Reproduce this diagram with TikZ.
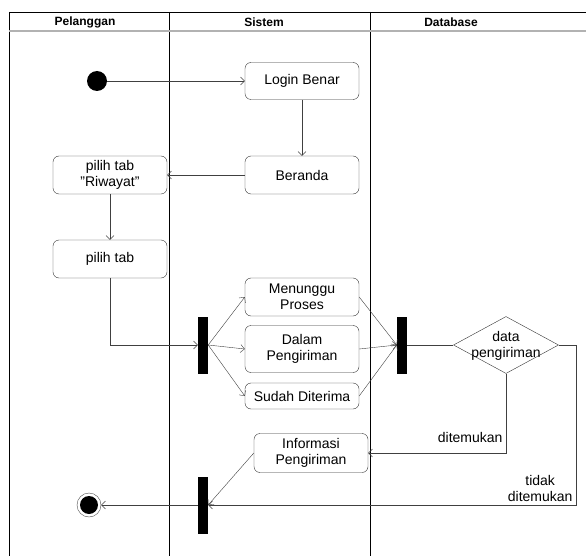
\documentclass[tikz,border=0pt]{standalone}
\usepackage{fontspec}
\setmainfont{Liberation Sans}
\usetikzlibrary{shapes.geometric,arrows.meta,positioning}

\begin{document}
\begin{tikzpicture}[x=1pt,y=-1pt,
  act/.style={draw=black!80,rounded corners=6pt,minimum width=114pt,align=center,inner sep=2pt,font=\fontsize{14}{16}\selectfont},
  bar/.style={fill=black,inner sep=0pt,minimum width=10pt,minimum height=57pt},
  flow/.style={draw=black!75,-{Straight Barb[length=4pt,width=8pt]}},
  lbl/.style={align=center,font=\fontsize{14}{16}\selectfont},
  lane/.style={font=\bfseries\fontsize{12}{14}\selectfont}]
\useasboundingbox (0,0) rectangle (586,556);

% lanes
\draw (9,12) -- (586,12);
\draw (9,12) -- (9,556);
\foreach \x in {169,370} {
\draw (\x,12) -- (\x,556);
}
\draw[gray!60,line width=1.5pt] (9,31) -- (586,31);
\node[lane] (h1) at (85,22) {Pelanggan};
\node[lane] (h2) at (264,22) {Sistem};
\node[lane] (h3) at (451,22) {Database};

% nodes
\node[circle,fill=black,inner sep=0pt,minimum size=20pt] (start) at (97,81) {};
\node[act,minimum height=37pt] (login) at (302,81) {Login Benar};
\node[act,minimum height=38pt] (beranda) at (302,175) {Beranda};
\node[act,minimum height=38pt] (riwayat) at (110,175) {pilih tab\\"Riwayat"};
\node[act,minimum height=38pt] (piliht) at (110,259) {pilih tab};

\node[bar] (fork1) at (203,345) {};
\node[act,minimum height=38pt] (menunggu) at (302,297) {Menunggu\\Proses};
\node[act,minimum height=47pt] (dalam) at (302,349) {Dalam\\Pengiriman};
\node[act,minimum height=26pt] (sudah) at (302,396) {Sudah Diterima};
\node[bar] (join) at (402,345) {};

\node[diamond,draw=black!80,inner sep=0pt,minimum width=105pt,minimum height=57pt] (data) at (506,345) {};
\node[lbl] (dtext) at (506,346) {data\\pengiriman};

\node[act,minimum height=39pt] (info) at (311,453) {Informasi\\Pengiriman};
\node[bar] (fork2) at (203,505) {};
\node[circle,draw=black!70,inner sep=0pt,minimum size=24pt] (final) at (89,505) {};
\node[circle,fill=black,inner sep=0pt,minimum size=18pt] (finalin) at (final) {};

\coordinate (ret) at (576,505);

% flows
\draw[flow] (start) -- (login);
\draw[flow] (login) -- (beranda);
\draw[flow] (beranda) -- (riwayat);
\draw[flow] (riwayat) -- (piliht);
\draw[flow] (piliht.south) |- (fork1.west);
\foreach \n in {menunggu,dalam,sudah} {
\draw[flow] (fork1.east) -- (\n.west);
\draw[flow] (\n.east) -- (join.west);
}
\draw[draw=black!75] (join.east) -- (data.west);
\draw[flow] (data.south) |- (info.east) node[pos=0.4,lbl,anchor=east] (l1) {ditemukan};
\draw[flow] (data.east) -| (ret) -- node[pos=0,lbl,anchor=south east] (l2) {tidak\\ditemukan} (fork2.east);
\draw[flow] (info.west) -- (fork2.east);
\draw[flow] (fork2.west) -- (final);
\end{tikzpicture}
\end{document}
